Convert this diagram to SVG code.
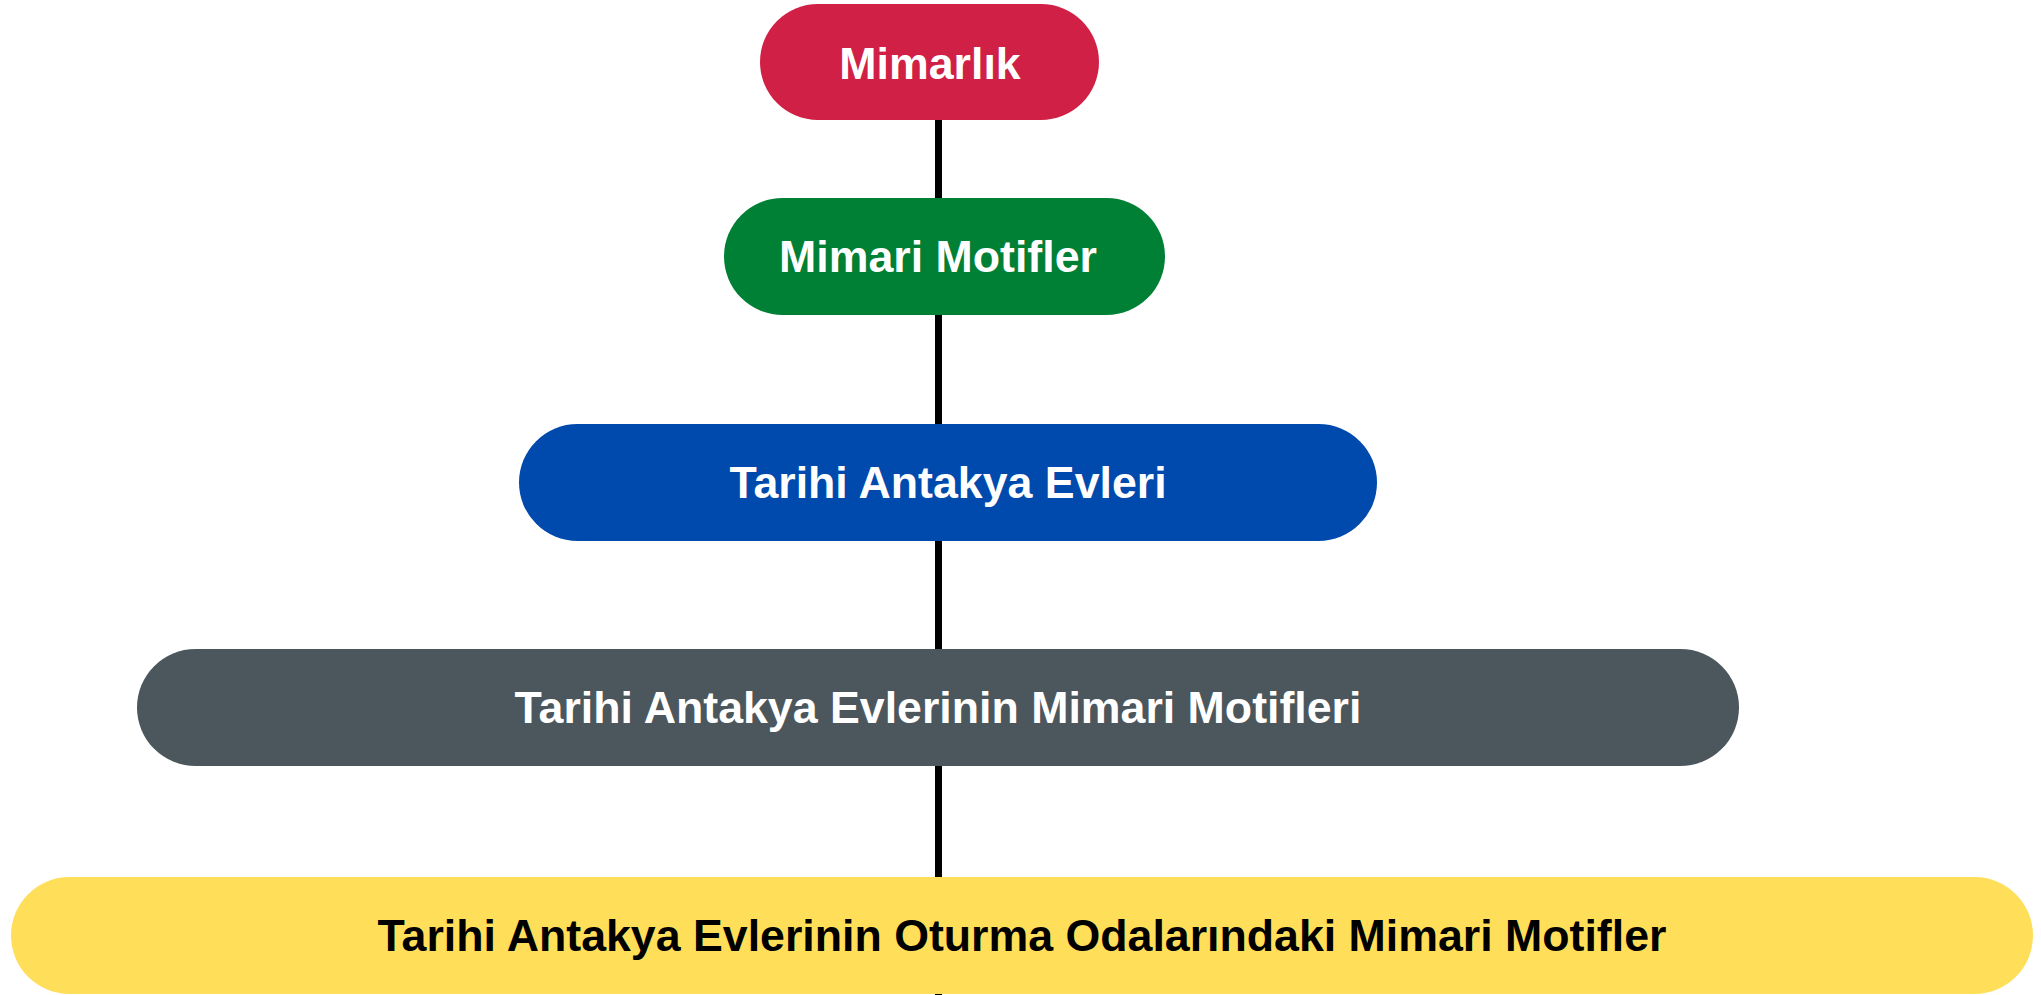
<svg xmlns="http://www.w3.org/2000/svg" width="2041" height="995" viewBox="0 0 2041 995">
<style>
.lbl{font-family:"Liberation Sans",Arial,sans-serif;font-weight:bold;font-size:44.7px;text-anchor:middle}
.w{fill:#ffffff}
.k{fill:#000000}
.conn{stroke:#000000;stroke-width:7;fill:none}
</style>
<rect width="2041" height="995" fill="#ffffff"/>
<g id="connectors">
<line class="conn" x1="938.5" y1="100" x2="938.5" y2="995"/>
</g>
<g id="n1">
<rect x="760" y="4" width="339" height="116" rx="58" fill="#D12046"/>
<text class="lbl w" x="930" y="79">Mimarlık</text>
</g>
<g id="n2">
<rect x="724" y="198" width="441" height="117" rx="58.5" fill="#008035"/>
<text class="lbl w" x="938" y="272">Mimari Motifler</text>
</g>
<g id="n3">
<rect x="519" y="424" width="858" height="117" rx="58.5" fill="#004AAD"/>
<text class="lbl w" x="948" y="498">Tarihi Antakya Evleri</text>
</g>
<g id="n4">
<rect x="137" y="649" width="1602" height="117" rx="58.5" fill="#4B575C"/>
<text class="lbl w" x="938" y="723">Tarihi Antakya Evlerinin Mimari Motifleri</text>
</g>
<g id="n5">
<rect x="11" y="877" width="2022" height="117" rx="58.5" fill="#FFDE59"/>
<text class="lbl k" x="1022" y="951">Tarihi Antakya Evlerinin Oturma Odalarındaki Mimari Motifler</text>
</g>
</svg>
